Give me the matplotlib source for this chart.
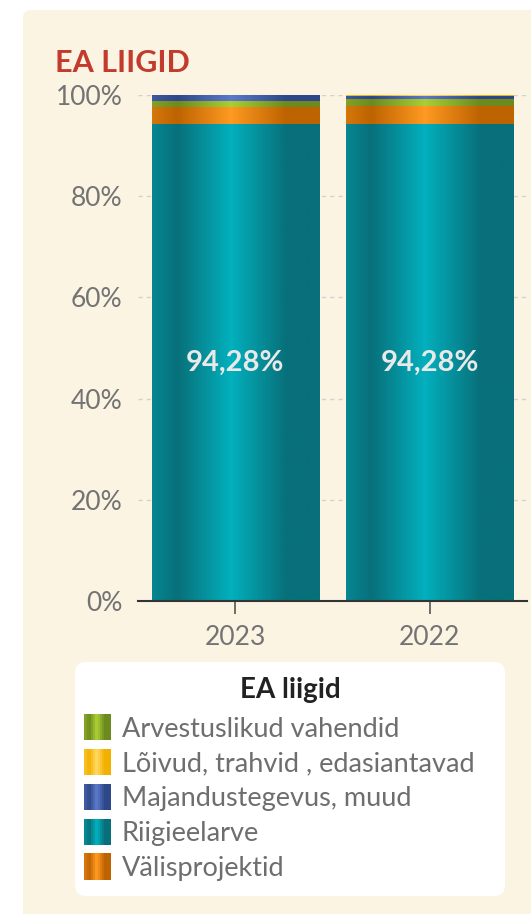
import numpy as np
import matplotlib
matplotlib.use("Agg")
import matplotlib.pyplot as plt
from matplotlib.patches import FancyBboxPatch, Rectangle
from matplotlib.colors import to_rgb
from matplotlib.legend_handler import HandlerBase

plt.rcParams['font.family'] = ['Lato', 'DejaVu Sans']

# ---- data ----
years = ["2023", "2022"]
riigieelarve = [94.28, 94.28]
valisprojektid = [3.40, 3.45]
arvestuslikud = [1.15, 1.50]
majandustegevus = [1.15, 0.50]
loivud = [0.02, 0.27]
title = "EA LIIGID"
legend_title = "EA liigid"
yticks = [0, 20, 40, 60, 80, 100]

# stacking order bottom -> top
series = [
    ("Riigieelarve", riigieelarve, ("#08707a", "#02b0bd")),
    ("Välisprojektid", valisprojektid, ("#bd6300", "#ff9a22")),
    ("Arvestuslikud vahendid", arvestuslikud, ("#6d8a1e", "#aace34")),
    ("Majandustegevus, muud", majandustegevus, ("#2e4788", "#5b79c9")),
    ("Lõivud, trahvid , edasiantavad", loivud, ("#f2b000", "#ffd860")),
]
legend_order = ["Arvestuslikud vahendid", "Lõivud, trahvid , edasiantavad",
                "Majandustegevus, muud", "Riigieelarve", "Välisprojektid"]

W, H = 531, 914
fig = plt.figure(figsize=(W / 100, H / 100), dpi=100)
fig.patch.set_facecolor("white")
panel = FancyBboxPatch((23, -30), 600, H - 10 + 30, boxstyle="round,pad=0,rounding_size=8",
                       transform=None, facecolor="#fbf4e3", edgecolor="none", zorder=-10)
fig.patches.append(panel)

ax = fig.add_axes([138 / W, 1 - 601 / H, (527 - 138) / W, (601 - 95) / H])
ax.set_facecolor("none")

stops = [0.0, 0.15, 0.47, 0.8, 1.0]
vals = [0.35, 0.0, 1.0, 0.0, 0.0]


def grad_colors(dark, light, n=200):
    t = np.interp(np.linspace(0, 1, n), stops, vals)
    d = np.array(to_rgb(dark)); l = np.array(to_rgb(light))
    return d[None, :] * (1 - t[:, None]) + l[None, :] * t[:, None]


x = np.arange(len(years))
bottom = np.zeros(len(years))
width = 0.86
for name, vals_s, (dark, light) in series:
    bars = ax.bar(x, vals_s, width, bottom=bottom, color=dark, edgecolor="none", zorder=2)
    g = grad_colors(dark, light)[None, :, :]
    for b in bars:
        x0, y0 = b.get_x(), b.get_y()
        im = ax.imshow(g, extent=(x0, x0 + b.get_width(), y0, y0 + b.get_height()),
                       aspect="auto", zorder=3, interpolation="bilinear")
        im.set_clip_path(b)
    bottom += np.array(vals_s)

for xi, v in zip(x, riigieelarve):
    ax.text(xi, v / 2, f"{v:.2f}%".replace(".", ","), ha="center", va="center",
            color="#e9e9e9", fontsize=21, fontweight="bold", zorder=5)

ax.set_xlim(-0.5, 1.5)
ax.set_ylim(0, 100)
ax.set_yticks(yticks)
ax.set_yticklabels([f"{t}%" for t in yticks])
ax.set_xticks(x)
ax.set_xticklabels(years)
ax.yaxis.grid(True, color="#d2d2d2", linestyle=(0, (3, 3)), linewidth=1, zorder=0)
ax.set_axisbelow(True)
for s in ["left", "right", "top"]:
    ax.spines[s].set_visible(False)
ax.spines["bottom"].set_color("#333333")
ax.spines["bottom"].set_linewidth(1.5)
ax.spines["bottom"].set_zorder(6)
ax.tick_params(axis="y", length=0, pad=11, labelsize=19, labelcolor="#737373")
ax.tick_params(axis="x", length=9, width=1.2, color="#555555", pad=8, labelsize=19,
               labelcolor="#737373")

fig.text(55 / W, 1 - 72 / H, title, color="#c23b2c", fontsize=22, fontweight="bold",
         ha="left", va="baseline")


class GradHandler(HandlerBase):
    def __init__(self, dark, light):
        super().__init__()
        self.dark, self.light = dark, light

    def create_artists(self, legend, orig_handle, xdescent, ydescent, width, height,
                       fontsize, trans):
        n = 12
        cols = grad_colors(self.dark, self.light, n)
        size = 19
        x0 = -xdescent - 4
        y0 = -ydescent + (height - size) / 2
        arts = []
        for i in range(n):
            r = Rectangle((x0 + i * size / n, y0), size / n + 0.3, size, facecolor=cols[i],
                          edgecolor="none", transform=trans)
            arts.append(r)
        return arts


lookup = {name: cols for name, _, cols in series}
handles = [Rectangle((0, 0), 1, 1) for _ in legend_order]
hmap = {h: GradHandler(*lookup[n]) for h, n in zip(handles, legend_order)}
leg = fig.legend(handles, legend_order, handler_map=hmap, loc="upper left",
                 bbox_to_anchor=(75 / W, 1 - 890 / H, (505 - 75) / W, (890 - 662) / H),
                 mode="expand", frameon=True, fancybox=True, fontsize=19.5,
                 title=legend_title, title_fontproperties={"size": 20, "weight": "bold"},
                 handlelength=0.77, handleheight=0.97, handletextpad=0.4, labelspacing=0.32,
                 borderpad=0.55, borderaxespad=0, alignment="center")
leg._legend_box.sep = 9
for t in leg.get_texts():
    t.set_color("#6e6e6e")
leg.get_title().set_color("#222222")
fr = leg.get_frame()
fr.set_facecolor("white")
fr.set_edgecolor("none")
fr.set_alpha(1)
fr.set_boxstyle("round,pad=0,rounding_size=0.4")

fig.savefig("out.png", dpi=100, facecolor=fig.get_facecolor())
